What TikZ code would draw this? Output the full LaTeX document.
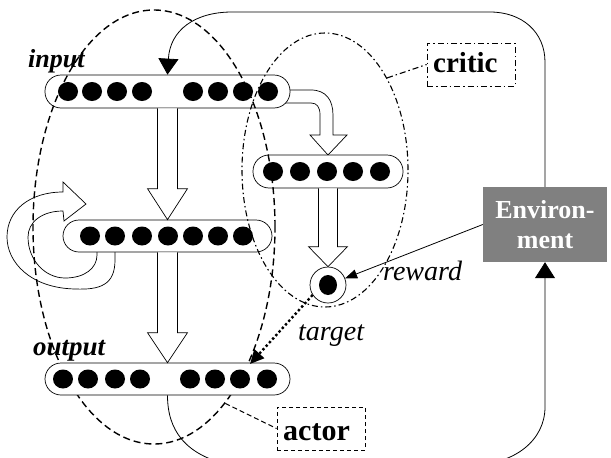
\documentclass[tikz,border=0pt]{standalone}
\usepackage{fontspec}
\setmainfont{Liberation Serif}
\usetikzlibrary{shapes.geometric,arrows.meta,calc}
\definecolor{envgray}{RGB}{128,128,128}
\begin{document}
\begin{tikzpicture}[x=1pt,y=-1pt,
  bar/.style={draw, line width=0.7pt, fill=white, rounded corners=16pt, inner sep=0pt},
  hollow/.style={draw, line width=0.7pt, fill=white},
  thinline/.style={line width=0.8pt},
  actorline/.style={line width=1.4pt, dash pattern=on 7pt off 4pt},
  criticline/.style={line width=1.1pt, dash pattern=on 6pt off 3pt on 1.5pt off 3pt},
  layerlbl/.style={font=\fontsize{26}{30}\selectfont\bfseries\itshape, anchor=base west, inner sep=0pt},
  sigl/.style={font=\fontsize{28}{30}\selectfont\itshape, anchor=base west, inner sep=0pt},
  boxlbl/.style={font=\fontsize{29}{32}\selectfont\bfseries, anchor=base west, inner sep=0pt},
  bigarrow/.style={thinline, -{Triangle[length=16pt,width=20pt]}}
]
\clip (0,0) rectangle (611,458);
\fill[white] (0,0) rectangle (611,458);

% environment
\node[fill=envgray, minimum width=124pt, minimum height=75pt, inner sep=0pt, text=white,
      align=center, font=\fontsize{26}{30}\selectfont\bfseries] (env) at (545,224.5) {Environ-\\ment};

% self loop on hidden layer
\draw[hollow] (115,245) -- (115,260) .. controls (115,285) and (100,290) .. (75,289)
  .. controls (30,288) and (7,262) .. (7,237) .. controls (7,210) and (30,192) .. (63,192)
  -- (63,182) -- (86,204) -- (64,221) -- (63,211)
  .. controls (42,211) and (28,222) .. (28,237) .. controls (28,260) and (45,278) .. (65,278)
  .. controls (85,278) and (97,268) .. (97,255) -- (97,245) -- cycle;

% curved band from input to critic layer
\draw[hollow] (285,90) -- (311,90) .. controls (326,90) and (333,100) .. (333,115) -- (333,135)
  -- (347,135) -- (328,155) -- (310,135) -- (320,135) -- (320,115)
  .. controls (320,107) and (317,103) .. (311,103) -- (285,103) -- cycle;

% bars
\node[bar, minimum width=245pt, minimum height=33pt] (inp) at (167.5,91.5) {};
\node[bar, minimum width=209pt, minimum height=32pt] (hid) at (167.5,236) {};
\node[bar, minimum width=150pt, minimum height=33pt] (crit) at (328,171.5) {};

% hollow arrows
\draw[hollow] let \p1=(inp.south), \p2=(hid.north) in
  (\x1-10pt,\y1) -- (\x1-10pt,\y2+31pt) -- (\x1-20pt,\y2+31pt) -- (\x1,\y2)
  -- (\x1+20pt,\y2+31pt) -- (\x1+10pt,\y2+31pt) -- (\x1+10pt,\y1);

% dots
\foreach \xx in {68,92,117,142,193,218,243,268} \fill (\xx,91.5) ellipse (10pt and 9.5pt);
\foreach \xx in {90,115,142,168,193,218,243} \fill (\xx,236) ellipse (10pt and 9.5pt);
\foreach \xx in {273,300,327,353,380} \fill (\xx,171.5) ellipse (10pt and 9.5pt);

% reward unit
\node[circle, draw, line width=0.7pt, fill=white, minimum size=36pt, inner sep=0pt] (rew) at (328,285) {};
\fill (rew) ellipse (9pt and 10pt);

\draw[hollow] let \p1=(crit.south), \p2=(rew.north) in
  (\x1-9.5pt,\y1) -- (\x1-9.5pt,\y2+20pt) -- (\x1-19.5pt,\y2+20pt) -- (\x1,\y2)
  -- (\x1+19.5pt,\y2+20pt) -- (\x1+9.5pt,\y2+20pt) -- (\x1+9.5pt,\y1);

% ellipses
\node[ellipse, draw, actorline, minimum width=242pt, minimum height=434pt, inner sep=0pt] (actorE) at (154,227) {};
\node[ellipse, draw, criticline, minimum width=166pt, minimum height=274pt, inner sep=0pt] (critE) at (325,170) {};

% output layer
\node[bar, minimum width=245pt, minimum height=32pt] (out) at (167.5,379) {};
\foreach \xx in {63,88,115,140,190,215,240,267} \fill (\xx,379) ellipse (10pt and 9.5pt);

\draw[hollow] let \p1=(hid.south), \p2=(out.north) in
  (\x1-10pt,\y1) -- (\x1-10pt,\y2+30pt) -- (\x1-20pt,\y2+30pt) -- (\x1,\y2)
  -- (\x1+20pt,\y2+30pt) -- (\x1+10pt,\y2+30pt) -- (\x1+10pt,\y1);

% environment loop
\draw[bigarrow] (env.north) -- (545,62) .. controls (545,32) and (522,12) .. (490,12) -- (232,12)
  .. controls (195,12) and (170,30) .. (inp.north);
\draw[bigarrow] (out.south) .. controls (167.5,430) and (185,455) .. (230,465) -- (470,465)
  .. controls (515,465) and (545,440) .. (545,407) -- (env.south);

% reward and target
\draw[thinline, -{Triangle[length=12pt,width=9pt]}] (env.west) -- (rew);
\coordinate (tgt) at (250,364);
\draw[line width=2.4pt, dash pattern=on 2.4pt off 2.4pt, -{Triangle[length=14pt,width=13pt]}] (rew.213) -- (tgt);

% boxes
\node[draw, criticline, line width=0.8pt, minimum width=88pt, minimum height=43pt, inner sep=0pt] (crbox) at (471,64.5) {};
\node[boxlbl] (crtxt) at (433,72) {critic};
\node[draw, line width=0.8pt, dash pattern=on 4pt off 3pt, minimum width=88pt, minimum height=43pt, inner sep=0pt] (acbox) at (321,428.5) {};
\node[boxlbl, font=\fontsize{30}{32}\selectfont\bfseries] (actxt) at (283,440) {actor};
\draw[line width=1pt, dash pattern=on 5pt off 3pt] (actorE.-68) -- (acbox.west);
\draw[criticline] (critE.56) -- (crbox.west);

% labels
\node[layerlbl] (inlbl) at (28,67) {input};
\node[layerlbl, font=\fontsize{27}{30}\selectfont\bfseries\itshape] (outlbl) at (33,355) {output};
\node[sigl] (rwlbl) at (383,280) {reward};
\node[sigl] (tglbl) at (298,340) {target};
\end{tikzpicture}
\end{document}
